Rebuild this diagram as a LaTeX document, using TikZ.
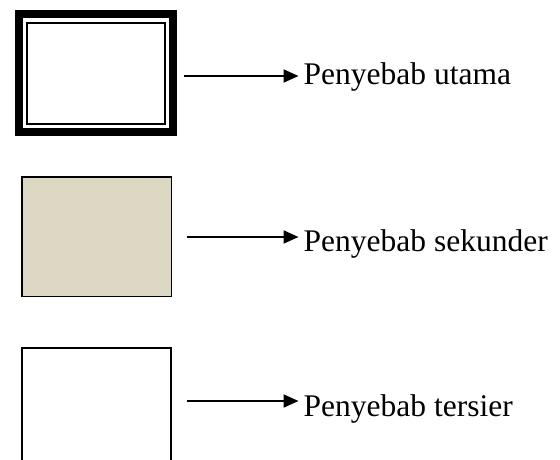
\documentclass[tikz,border=0pt]{standalone}
\usepackage{fontspec}
\setmainfont{Liberation Serif}
\usetikzlibrary{arrows.meta}
\definecolor{beige}{RGB}{221,216,196}
\tikzset{
  lbl/.style={anchor=base west, inner sep=0pt, font=\fontsize{31.5}{36}\selectfont},
  arr/.style={line width=2pt, -{Triangle[length=15pt,width=13pt]}},
  thinbox/.style={draw=black, line width=1.8pt}
}
\begin{document}
\begin{tikzpicture}[x=1pt,y=-1pt]
\useasboundingbox (0,0) rectangle (560,459);
\clip (0,0) rectangle (560,459);
% box 1 (main cause): thick frame with thin inner line
\draw[line width=8pt] (19,14) rectangle (173,132);
\draw[line width=2pt] (26.8,22.8) rectangle (165.4,124);
% box 2 (secondary)
\draw[thinbox, fill=beige] (21.7,176.7) rectangle (171.5,296.5);
% box 3 (tertiary)
\draw[thinbox] (21.7,347.6) rectangle (171,480);
% labels
\node[lbl] (t1) at (303.5,84.5) {Penyebab utama};
\node[lbl] (t2) at (303.5,251) {Penyebab sekunder};
\node[lbl] (t3) at (303.5,416) {Penyebab tersier};
% arrows
\coordinate (s1) at (183.5,76);
\coordinate (s2) at (187,237);
\coordinate (s3) at (187,401);
\draw[arr] (s1) -- ([xshift=-5pt]s1 -| t1.west);
\draw[arr] (s2) -- ([xshift=-5pt]s2 -| t2.west);
\draw[arr] (s3) -- ([xshift=-5pt]s3 -| t3.west);
\end{tikzpicture}
\end{document}
